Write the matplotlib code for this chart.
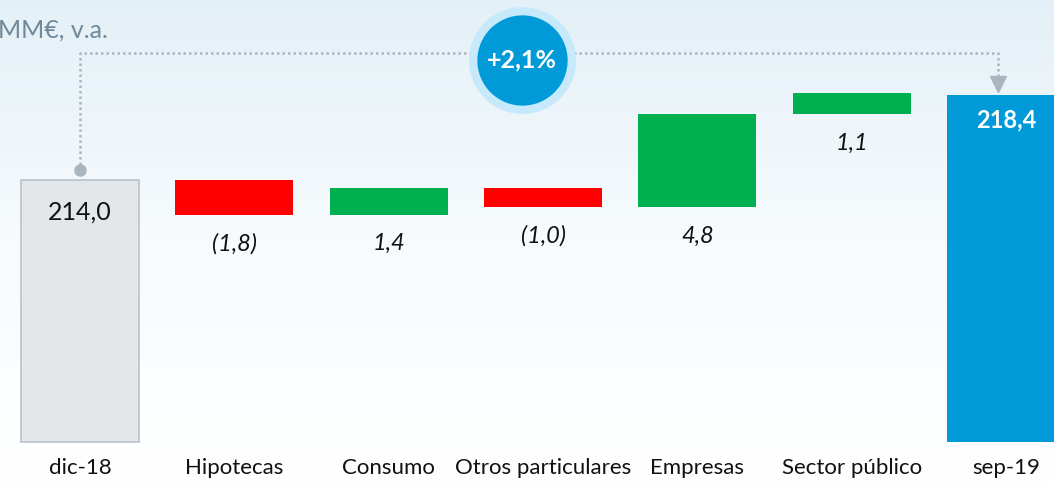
import numpy as np
import matplotlib
matplotlib.use("Agg")
import matplotlib.pyplot as plt
from matplotlib.transforms import blended_transform_factory

plt.rcParams['font.family'] = ['Lato', 'DejaVu Sans']

categorias = ["dic-18", "Hipotecas", "Consumo", "Otros particulares", "Empresas", "Sector público", "sep-19"]
inicio = 214.0
cambios = [-1.8, 1.4, -1.0, 4.8, 1.1]
final = 218.4
etiquetas_cambio = ["(1,8)", "1,4", "(1,0)", "4,8", "1,1"]
variacion = "+2,1%"
unidad = "MM€, v.a."

base = 200.44
gris = "#e3e7ea"
borde_gris = "#b9c3c9"
rojo = "#ff0000"
verde = "#00b050"
azul = "#009ad8"

fig = plt.figure(figsize=(10.54, 4.84), dpi=100)
ax = fig.add_axes([0, 0, 1, 1])
ax.set_xlim(-0.518, 6.31)
ax.set_ylim(198.26, 223.32)
ax.axis("off")

# fondo degradado
grad = np.linspace(0, 1, 256).reshape(-1, 1)
cmap = matplotlib.colors.LinearSegmentedColormap.from_list("bg", ["#e4f0f7", "#f7fbfd", "#ffffff"])
ax.imshow(grad, cmap=cmap, aspect="auto", extent=[-0.518, 6.31, 198.26, 223.32],
          origin="upper", zorder=0)

w = 0.765
# barra inicial
ax.bar(0, inicio - base, bottom=base, width=w, color=gris, edgecolor=borde_gris, linewidth=1.2, zorder=2)
ax.text(0, inicio - 1.65, "214,0", ha="center", va="center", fontsize=18, color="#111111", zorder=3)

nivel = inicio
for i, (c, lab) in enumerate(zip(cambios, etiquetas_cambio), start=1):
    bajo = min(nivel, nivel + c)
    ax.bar(i, abs(c), bottom=bajo, width=w, color=rojo if c < 0 else verde, zorder=2)
    ax.text(i, bajo - 1.5, lab, ha="center", va="center", fontsize=17, style="italic",
            color="#111111", zorder=3)
    nivel += c

# barra final
ax.bar(6, final - base, bottom=base, width=w, color=azul, zorder=2)
ax.text(6, final - 1.3, "218,4", ha="center", va="center", fontsize=17, fontweight="bold",
        color="white", zorder=3)

# etiquetas de categoria
tr = blended_transform_factory(ax.transData, ax.transAxes)
for i, cat in enumerate(categorias):
    ax.text(i, 0.033, cat, ha="center", va="center", fontsize=16, color="#111111", transform=tr)

# unidad
ax.text(-0.53, 221.76, unidad, ha="left", va="center", fontsize=18, color="#70899a")

# conector punteado
y_linea = 220.6
lc = "#aab6be"
ax.plot([0, 0, 5.95, 5.95], [inicio + 0.5, y_linea, y_linea, final + 0.8], color=lc,
        linestyle=(0, (1, 1.2)), linewidth=1.8, zorder=1)
ax.plot(0, inicio + 0.5, "o", color=lc, markersize=8, zorder=1)
ax.plot(5.95, final + 0.55, "v", color=lc, markersize=11, zorder=1)

# burbuja de variacion
ax.scatter([2.865], [220.2], s=77 ** 2, color="#c6e9fb", zorder=4, linewidths=0)
ax.scatter([2.865], [220.2], s=65 ** 2, color=azul, zorder=5, linewidths=0)
ax.text(2.865, 220.2, variacion, ha="center", va="center", fontsize=18, fontweight="bold",
        color="white", zorder=6)

fig.savefig("out.png", dpi=100)
